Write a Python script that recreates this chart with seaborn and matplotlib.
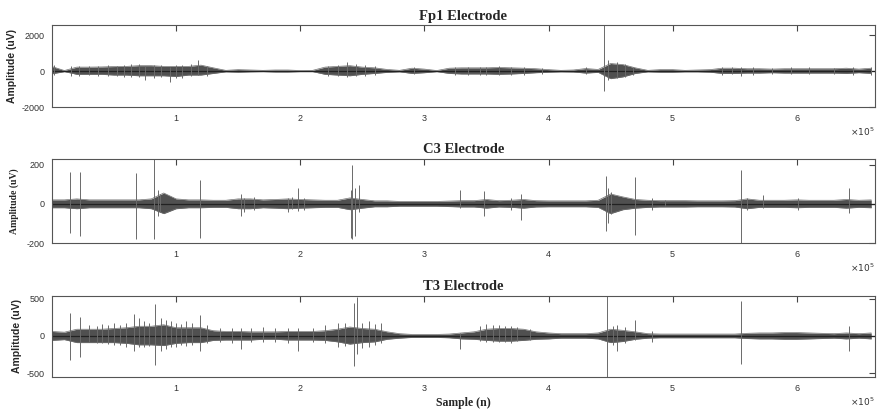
import numpy as np
import pandas as pd
import matplotlib
matplotlib.use("Agg")
import matplotlib.pyplot as plt
import seaborn as sns

# ---- data (x in units of 1e5 samples) ----
env_x = [round(0.1 * i, 1) for i in range(67)]

fp1_hi = [250, 30, 220, 220, 230, 250, 260, 300, 300, 260, 260, 260, 330, 180, 40, 80, 60, 40, 60, 60,
          30, 40, 220, 260, 300, 220, 180, 90, 40, 160, 110, 30, 160, 180, 180, 180, 200, 180, 160, 130,
          80, 40, 60, 140, 90, 420, 360, 180, 40, 80, 80, 40, 60, 80, 160, 160, 130, 130, 110, 130,
          130, 130, 130, 130, 160, 110, 160]
fp1_lo = [150, 30, 180, 180, 180, 220, 220, 260, 260, 260, 300, 220, 220, 130, 40, 60, 40, 30, 50, 50,
          30, 30, 180, 220, 260, 180, 130, 70, 40, 130, 90, 30, 130, 160, 160, 160, 180, 160, 130, 90,
          60, 40, 50, 110, 70, 420, 320, 130, 40, 60, 60, 40, 40, 60, 130, 130, 110, 110, 90, 110,
          110, 110, 110, 110, 130, 90, 130]

c3_hi = [20, 20, 25, 20, 20, 20, 20, 20, 25, 55, 25, 20, 20, 18, 18, 25, 25, 20, 22, 25,
         22, 20, 18, 18, 30, 22, 15, 15, 12, 12, 12, 12, 14, 16, 16, 22, 16, 18, 22, 16,
         15, 15, 15, 15, 18, 50, 35, 22, 18, 16, 16, 16, 15, 15, 15, 16, 25, 18, 18, 18,
         20, 18, 18, 18, 22, 18, 20]
c3_lo = [20, 20, 25, 20, 20, 20, 20, 20, 25, 50, 25, 20, 20, 18, 18, 25, 25, 20, 22, 25,
         22, 20, 18, 18, 30, 22, 15, 15, 12, 12, 12, 12, 14, 16, 16, 22, 16, 18, 22, 16,
         15, 15, 15, 15, 18, 50, 30, 22, 18, 16, 16, 16, 15, 15, 15, 16, 25, 18, 18, 18,
         20, 18, 18, 18, 22, 18, 20]

t3_hi = [60, 50, 90, 90, 90, 100, 110, 130, 130, 150, 110, 110, 110, 70, 60, 60, 55, 55, 55, 60,
         60, 60, 70, 90, 120, 100, 90, 55, 30, 20, 20, 20, 25, 40, 55, 90, 100, 100, 90, 55,
         40, 30, 30, 30, 40, 90, 75, 55, 30, 25, 25, 25, 25, 25, 25, 25, 35, 40, 40, 45,
         45, 40, 35, 30, 40, 30, 40]
t3_lo = [60, 50, 90, 90, 90, 90, 100, 120, 120, 130, 100, 90, 90, 60, 55, 55, 55, 45, 45, 55,
         55, 55, 60, 80, 110, 90, 80, 45, 30, 20, 20, 20, 25, 40, 45, 60, 70, 70, 60, 45,
         40, 30, 30, 30, 40, 90, 75, 45, 30, 25, 25, 25, 25, 25, 25, 25, 35, 40, 40, 45,
         45, 40, 35, 30, 40, 30, 40]

# spikes: position, peak, trough
fp1_spk_x = [0.02, 0.15, 0.22, 0.30, 0.37, 0.45, 0.52, 0.58, 0.64, 0.70, 0.75, 0.82, 0.88, 0.95,
             1.00, 1.05, 1.12, 1.18, 1.25, 2.22, 2.30, 2.38, 2.45, 2.52, 2.60, 2.92, 3.25, 3.35,
             3.45, 3.50, 3.60, 3.70, 3.80, 3.95, 4.30, 4.45, 4.48, 4.55, 4.62, 4.68, 5.40, 5.48,
             5.55, 5.65, 5.80, 5.95, 6.10, 6.30, 6.45, 6.60]
fp1_spk_hi = [330, 300, 280, 260, 300, 320, 300, 330, 380, 400, 300, 360, 330, 200,
              340, 350, 380, 600, 300, 280, 360, 500, 400, 320, 260, 220, 230, 240,
              220, 250, 300, 240, 220, 160, 200, 2600, 600, 500, 400, 250, 220, 220,
              250, 200, 180, 200, 200, 180, 220, 250]
fp1_spk_lo = [-200, -250, -260, -240, -300, -280, -300, -320, -350, -350, -500, -380, -340, -580,
              -400, -400, -300, -200, -250, -250, -300, -350, -300, -280, -200, -180, -200, -220,
              -200, -200, -200, -220, -200, -140, -180, -1130, -500, -400, -350, -200, -200, -180,
              -250, -200, -180, -160, -180, -180, -200, -200]

c3_spk_x = [0.143, 0.224, 0.674, 0.825, 0.85, 0.87, 1.189, 1.52, 1.55, 1.63, 1.90, 1.93, 1.98, 2.03,
            2.405, 2.42, 2.44, 2.47, 3.29, 3.48, 3.70, 3.78, 4.46, 4.48, 4.50, 4.70, 4.83, 4.94,
            5.55, 5.60, 5.73, 6.01, 6.42]
c3_spk_hi = [162, 162, 159, 230, 70, 50, 120, 48, 30, 35, 30, 35, 80, 30,
             70, 200, 80, 95, 68, 65, 30, 48, 142, 80, 60, 137, 30, 20,
             171, 30, 45, 30, 82]
c3_spk_lo = [-150, -166, -178, -180, -63, -40, -175, -63, -40, -30, -40, -25, -35, -30,
             -175, -180, -165, -40, -20, -63, -30, -80, -140, -100, -50, -157, -30, -10,
             -200, -30, -20, -30, -46]

t3_spk_x = [0.143, 0.224, 0.30, 0.36, 0.40, 0.45, 0.50, 0.55, 0.60, 0.66, 0.70, 0.74, 0.78, 0.83,
            0.88, 0.92, 0.96, 1.00, 1.04, 1.08, 1.13, 1.19, 1.25, 1.35, 1.45, 1.52, 1.60, 1.70,
            1.80, 1.90, 1.98, 2.10, 2.20, 2.30, 2.36, 2.43, 2.46, 2.50, 2.55, 2.60, 2.65, 3.29,
            3.45, 3.50, 3.55, 3.60, 3.65, 3.70, 3.75, 3.85, 4.47, 4.52, 4.55, 4.62, 4.70, 4.83,
            5.55, 6.42]
t3_spk_hi = [310, 250, 150, 140, 160, 150, 170, 150, 180, 290, 240, 200, 180, 430,
             240, 220, 200, 180, 160, 200, 170, 275, 150, 110, 100, 100, 110, 120,
             100, 110, 100, 110, 150, 180, 170, 440, 520, 180, 200, 160, 170, 40,
             140, 160, 150, 150, 140, 140, 120, 90, 560, 130, 150, 120, 220, 60,
             465, 130]
t3_spk_lo = [-330, -290, -80, -100, -100, -110, -120, -120, -150, -200, -150, -150, -140, -390,
             -200, -180, -150, -150, -120, -140, -120, -200, -100, -80, -90, -170, -80, -80,
             -80, -90, -200, -80, -100, -150, -130, -400, -240, -160, -150, -120, -100, -177,
             -70, -80, -80, -80, -80, -90, -70, -60, -560, -120, -200, -100, -60, -80,
             -375, -200]

titles = ["Fp1 Electrode", "C3 Electrode", "T3 Electrode"]
ylims = [(-2000, 2550), (-200, 228), (-553, 540)]
yticks = [[-2000, 0, 2000], [-200, 0, 200], [-500, 0, 500]]
xtick_vals = [1, 2, 3, 4, 5, 6]

panels = [
    (fp1_hi, fp1_lo, fp1_spk_x, fp1_spk_hi, fp1_spk_lo),
    (c3_hi, c3_lo, c3_spk_x, c3_spk_hi, c3_spk_lo),
    (t3_hi, t3_lo, t3_spk_x, t3_spk_hi, t3_spk_lo),
]

sns.set_style("white")
plt.rcParams["font.family"] = ["Liberation Sans", "DejaVu Sans"]

fig = plt.figure(figsize=(8.77, 4.12), dpi=100)
boxes = [(0.939, 0.740), (0.614, 0.410), (0.282, 0.085)]
left, right = 0.0593, 0.9977

band_col = "#505050"
spk_col = "#6a6a6a"

for i, ((hi, lo, sx, sh, sl), (top, bot)) in enumerate(zip(panels, boxes)):
    ax = fig.add_axes([left, bot, right - left, top - bot])
    df = pd.DataFrame({"x": np.array(env_x) * 1e5,
                       "hi": np.array(hi, dtype=float),
                       "lo": -np.array(lo, dtype=float)})
    ax.fill_between(df["x"], df["lo"], df["hi"], color=band_col, lw=0)
    sns.lineplot(data=df, x="x", y="hi", ax=ax, color="#707070", lw=0.5)
    sns.lineplot(data=df, x="x", y="lo", ax=ax, color="#707070", lw=0.5)
    ax.axhline(0, color="#222222", lw=0.9)
    ax.vlines(np.array(sx) * 1e5, sl, sh, color=spk_col, lw=0.7)

    ax.set_xlim(0, 6.63e5)
    ax.set_ylim(*ylims[i])
    ax.set_xticks([v * 1e5 for v in xtick_vals])
    ax.set_xticklabels([str(v) for v in xtick_vals])
    ax.set_yticks(yticks[i])
    ax.set_yticklabels([str(v) for v in yticks[i]])
    ax.tick_params(direction="in", length=4, width=0.8, colors="#444444",
                   labelsize=6.5, labelcolor="#333333", top=True, right=True,
                   pad=5)
    for s in ax.spines.values():
        s.set_color("#555555")
        s.set_linewidth(0.8)
    ax.set_xlabel("")
    ax.set_title(titles[i], fontsize=10.5, fontweight="bold",
                 family=["Liberation Serif", "DejaVu Serif"], pad=4)
    if i == 1:
        ax.set_ylabel("Amplitude (uV)", fontsize=7, fontweight="bold",
                      family=["Liberation Serif", "DejaVu Serif"], labelpad=6)
    else:
        ax.set_ylabel("Amplitude (uV)", fontsize=7.5, fontweight="bold", labelpad=4)
    ax.text(1.0, -0.30, r"$\times10^5$", transform=ax.transAxes, ha="right",
            va="center", fontsize=6.5, color="#333333")
    if i == 2:
        ax.set_xlabel("Sample (n)", fontsize=8.5, fontweight="bold",
                      family=["Liberation Serif", "DejaVu Serif"], labelpad=3)

fig.savefig("out.png", dpi=100)
